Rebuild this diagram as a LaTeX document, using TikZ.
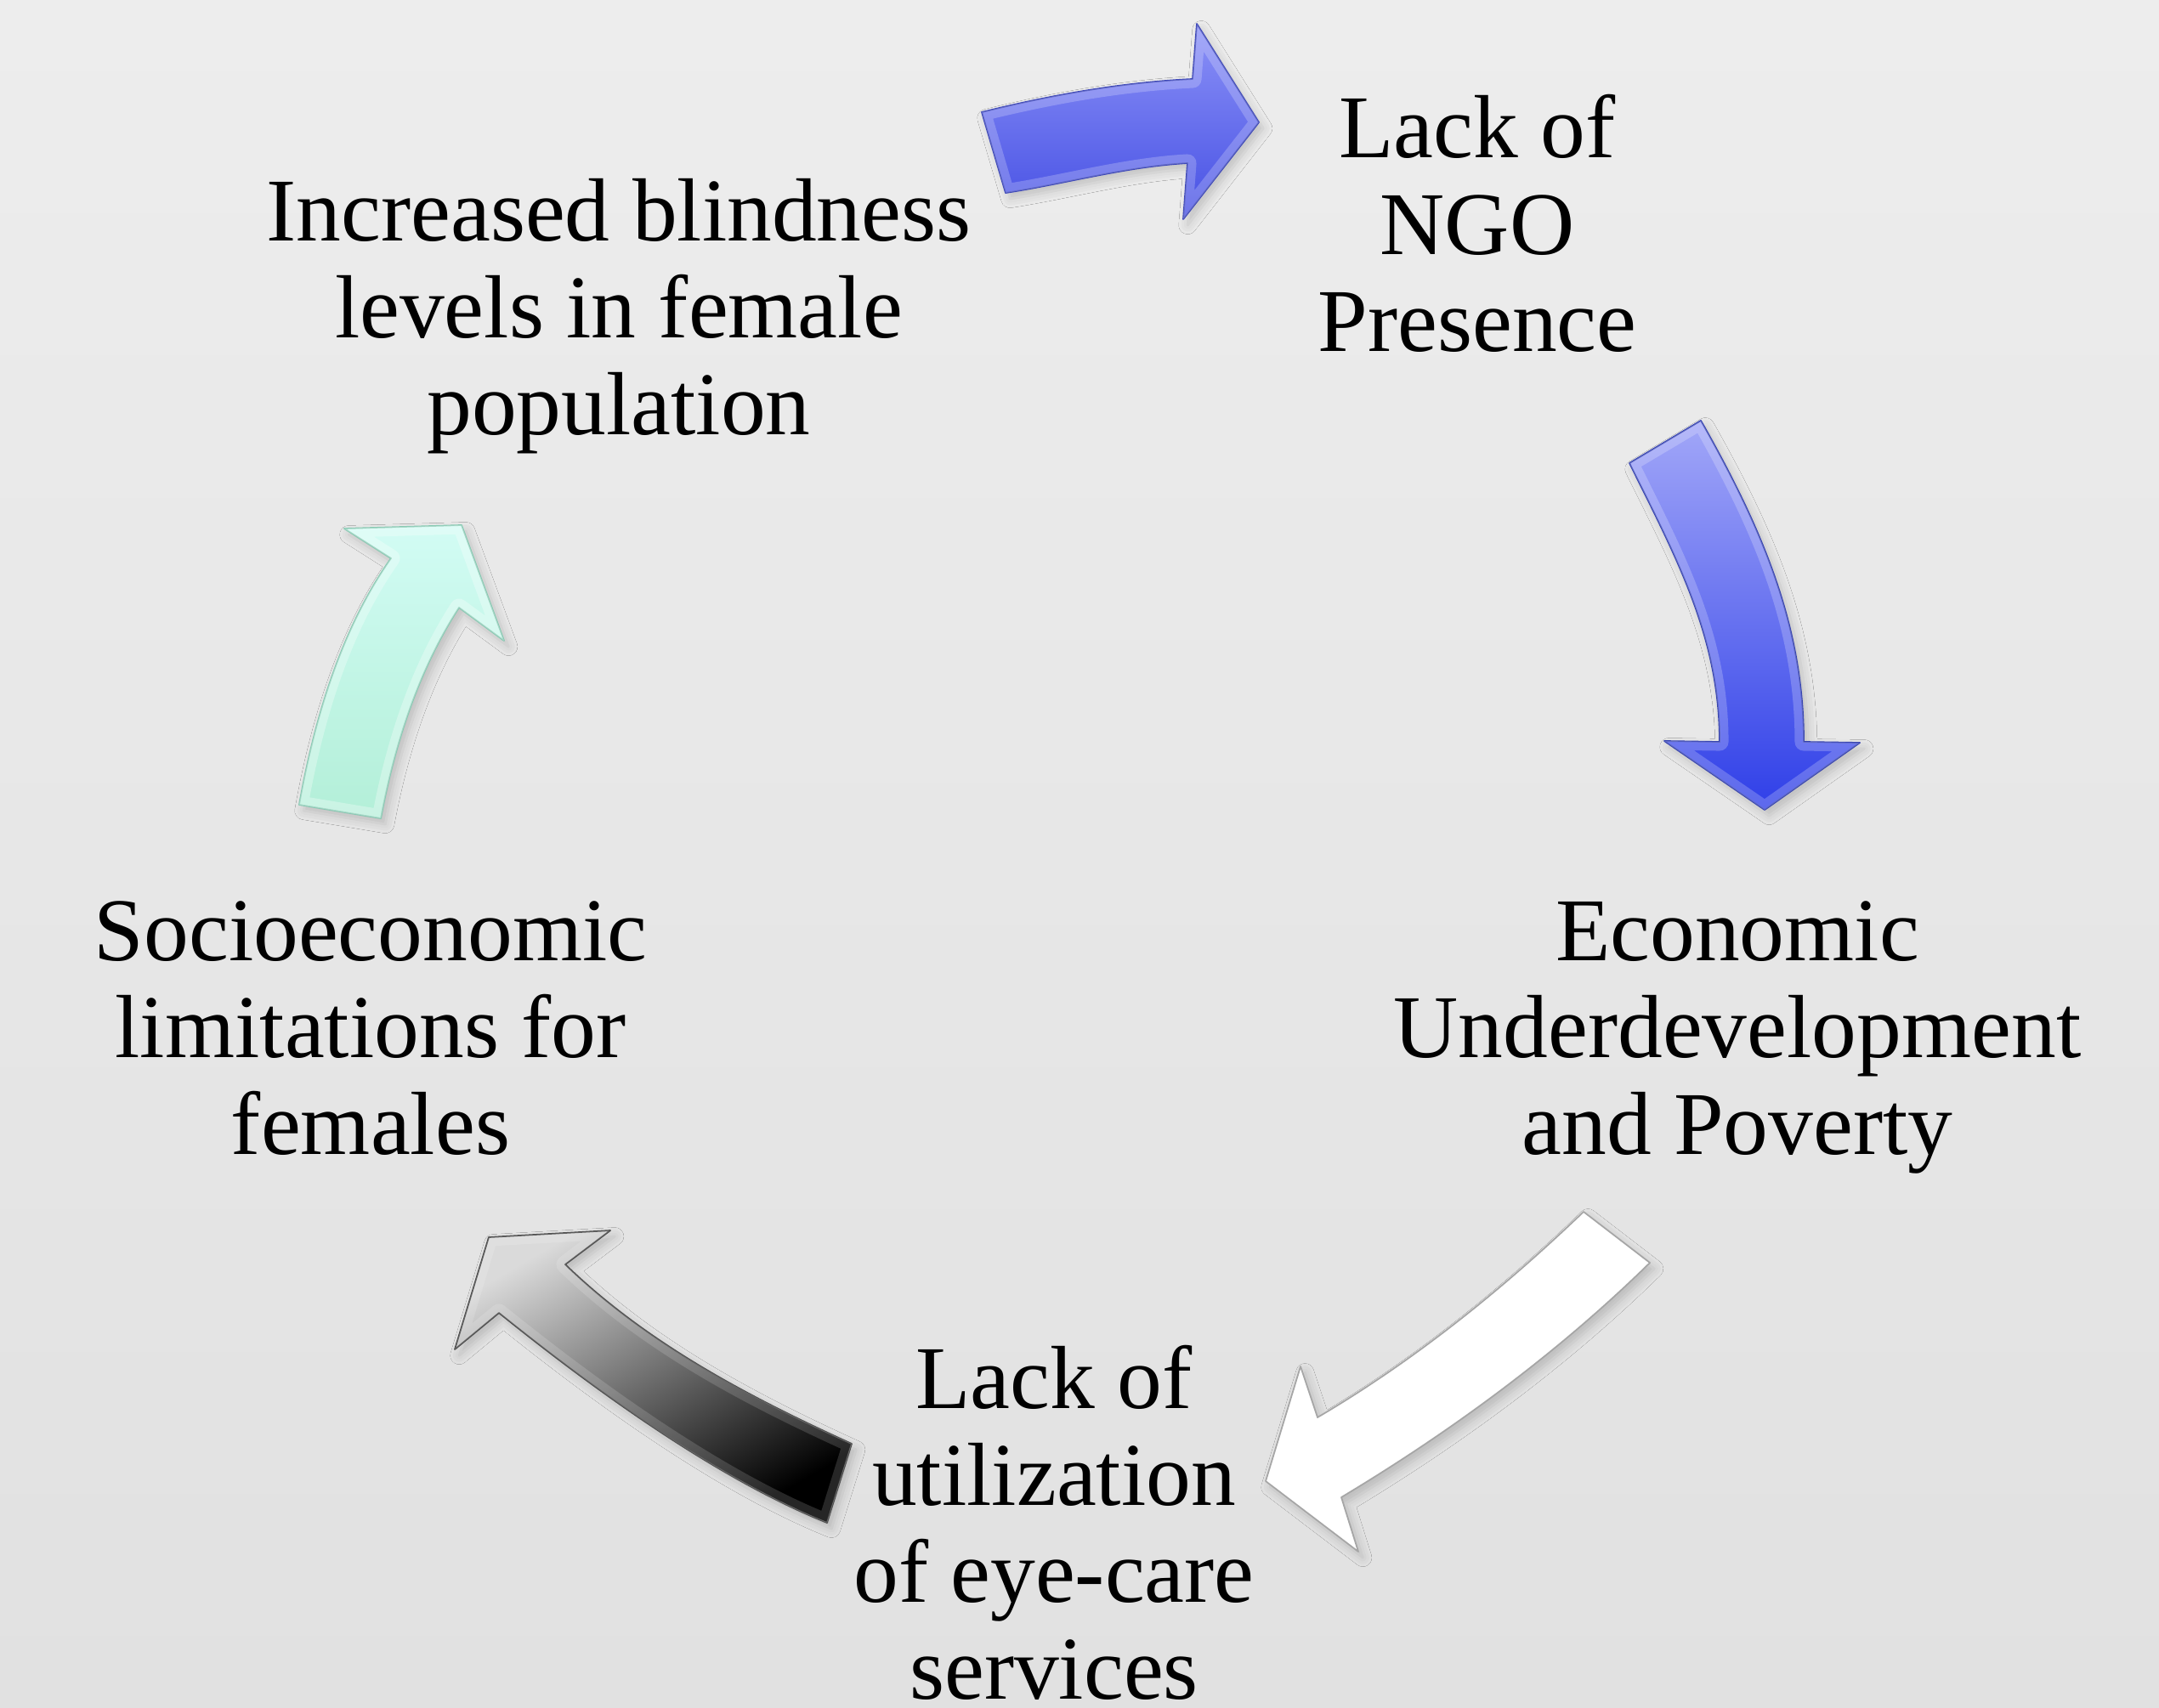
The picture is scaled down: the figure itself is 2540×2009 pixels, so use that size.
\documentclass[tikz,border=0pt]{standalone}
\usepackage{fontspec}
\setmainfont{Liberation Serif}
\usetikzlibrary{shadows.blur}
\definecolor{bgtop}{HTML}{EDEDED}
\definecolor{bgbot}{HTML}{E1E1E1}
\definecolor{blueAtop}{HTML}{8C92F7}
\definecolor{blueAbot}{HTML}{4650E4}
\definecolor{blueAline}{HTML}{3A44B8}
\definecolor{blueBtop}{HTML}{A2A7F8}
\definecolor{blueBbot}{HTML}{2F3FE8}
\definecolor{blueBline}{HTML}{3340B0}
\definecolor{mintTop}{HTML}{D2FCF4}
\definecolor{mintBot}{HTML}{B3EFD8}
\definecolor{mintLine}{HTML}{86C9B2}
\definecolor{grayTop}{HTML}{DADADA}
\definecolor{grayBot}{HTML}{000000}
\newcommand\arrA{(1155,132) .. controls (1236,112) and (1319,97) .. (1403,93) -- (1408,28) -- (1481,144) -- (1392,258) -- (1397,192) .. controls (1325,196) and (1254,216) .. (1183,227) -- cycle}
\newcommand\arrB{(1917,545) -- (2001,495) .. controls (2070,617) and (2122,733) .. (2122,873) -- (2188,874) -- (2076,953) -- (1958,872) -- (2023,873) .. controls (2023,750) and (1973,658) .. (1917,545) -- cycle}
\newcommand\arrC{(1863,1426) -- (1941,1486) .. controls (1833,1592) and (1708,1684) .. (1578,1762) -- (1598,1826) -- (1489,1743) -- (1530,1608) -- (1550,1668) .. controls (1664,1601) and (1768,1517) .. (1863,1426) -- cycle}
\newcommand\arrD{(1002,1699) .. controls (881,1644) and (761,1581) .. (665,1488) -- (718,1448) -- (575,1456) -- (535,1588) -- (587,1545) .. controls (696,1633) and (843,1740) .. (973,1792) -- cycle}
\newcommand\arrE{(352,947) .. controls (370,846) and (401,741) .. (460,657) -- (405,622) -- (543,618) -- (593,754) -- (540,715) .. controls (492,789) and (464,877) .. (448,963) -- cycle}
\begin{document}
\begin{tikzpicture}[x=0.01cm,y=-0.01cm,
  lbl/.style={align=center,inner sep=0pt,anchor=base,font=\fontsize{30}{32.4}\selectfont},
  arrshadow/.style={blur shadow={shadow xshift=1.5pt,shadow yshift=-2pt,shadow blur radius=3pt,shadow opacity=18}},
  rim/.style={white,opacity=0.22,line width=6pt,line join=round}]
\useasboundingbox (0,0) rectangle (2540,2009);
\clip (0,0) rectangle (2540,2009);
\shade[top color=bgtop,bottom color=bgbot] (0,0) rectangle (2540,2009);

% arrow 1 (top, blue)
\path[arrshadow,top color=blueAtop,bottom color=blueAbot,draw=blueAline,line width=0.5pt,line join=round] \arrA;
\begin{scope}\clip \arrA; \draw[rim] \arrA; \end{scope}
% arrow 2 (right, blue)
\path[arrshadow,top color=blueBtop,bottom color=blueBbot,draw=blueBline,line width=0.5pt,line join=round] \arrB;
\begin{scope}\clip \arrB; \draw[rim] \arrB; \end{scope}
% arrow 3 (bottom right, white)
\path[arrshadow,fill=white,draw=black!35,line width=0.5pt,line join=round] \arrC;
% arrow 4 (bottom left, gray to black)
\path[arrshadow,top color=grayTop,bottom color=grayBot,shading angle=30,draw=black!70,line width=0.5pt,line join=round] \arrD;
\begin{scope}\clip \arrD; \draw[rim,opacity=0.15] \arrD; \end{scope}
% arrow 5 (left, mint)
\path[arrshadow,top color=mintTop,bottom color=mintBot,draw=mintLine,line width=0.5pt,line join=round] \arrE;
\begin{scope}\clip \arrE; \draw[rim,opacity=0.3] \arrE; \end{scope}

% anchor=base is the baseline of the last line
\node[lbl] (blind) at (728,511) {Increased blindness\\levels in female\\population};
\node[lbl] (ngo) at (1738,413) {Lack of\\NGO\\Presence};
\node[lbl] (econ) at (2044,1358) {Economic\\Underdevelopment\\and Poverty};
\node[lbl] (util) at (1240,1999) {Lack of\\utilization\\of eye-care\\services};
\node[lbl] (socio) at (436,1358) {Socioeconomic\\limitations for\\females};
\end{tikzpicture}
\end{document}
